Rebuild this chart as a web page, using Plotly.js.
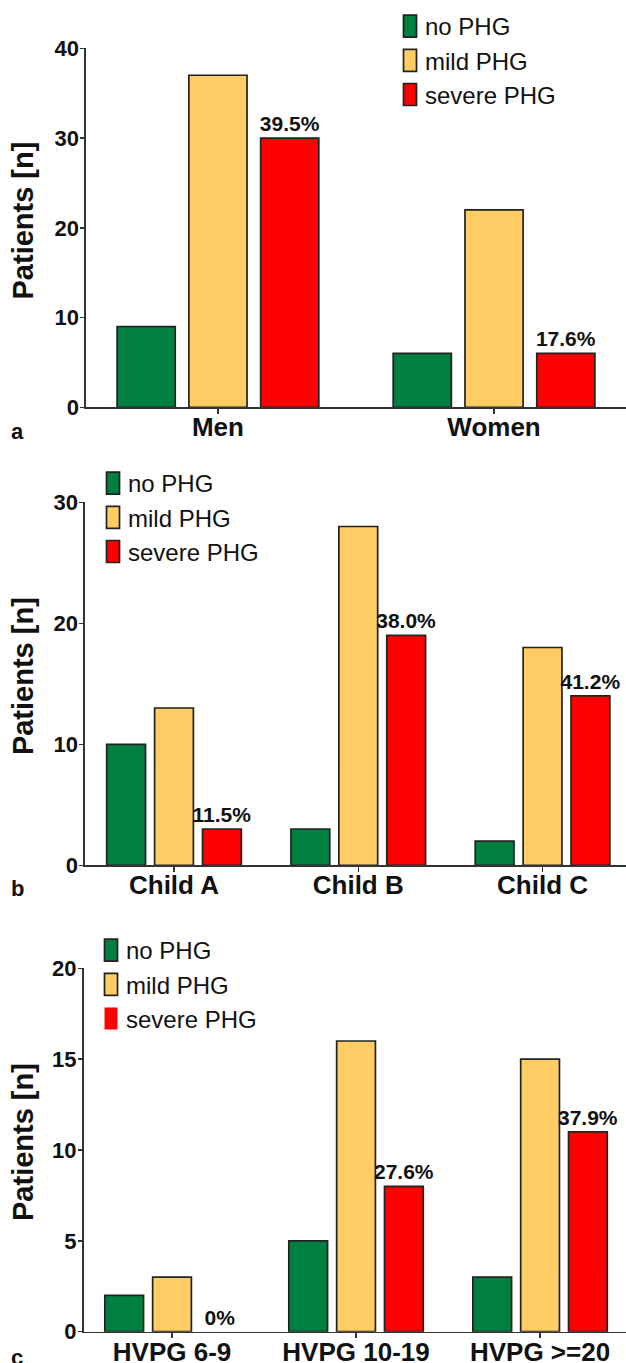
<!DOCTYPE html>
<html>
<head>
<meta charset="utf-8">
<script src="https://cdn.plot.ly/plotly-3.0.1.min.js"></script>
<style>
  html, body { margin: 0; padding: 0; background: #fff; }
  #chart { width: 626px; height: 1363px; }
</style>
</head>
<body>
<div id="chart"></div>
<script>
// ---------- Data ----------
const seriesNames = ['no PHG', 'mild PHG', 'severe PHG'];

const sexCategories = ['Men', 'Women'];
const sexNoPHG = [9, 6];
const sexMildPHG = [37, 22];
const sexSeverePHG = [30, 6];
const sexSevereLabels = ['39.5%', '17.6%'];

const childCategories = ['Child A', 'Child B', 'Child C'];
const childNoPHG = [10, 3, 2];
const childMildPHG = [13, 28, 18];
const childSeverePHG = [3, 19, 14];
const childSevereLabels = ['11.5%', '38.0%', '41.2%'];

const hvpgCategories = ['HVPG 6-9', 'HVPG 10-19', 'HVPG >=20'];
const hvpgNoPHG = [2, 5, 3];
const hvpgMildPHG = [3, 16, 15];
const hvpgSeverePHG = [0, 8, 11];
const hvpgSevereLabels = ['0%', '27.6%', '37.9%'];

// ---------- Styling ----------
const colors = ['#008040', '#FFCC66', '#FF0000'];
const FONT = 'Liberation Sans, Arial, sans-serif';
const lineCol = '#222222';

function panelTraces(cats, none, mild, severe, labels, xa, ya, leg) {
  const vals = [none, mild, severe];
  return vals.map((v, i) => {
    const t = {
      type: 'bar',
      name: seriesNames[i],
      x: cats,
      y: v,
      xaxis: xa,
      yaxis: ya,
      legend: leg,
      legendgroup: leg + '_' + i,
      marker: { color: colors[i], line: { color: lineCol, width: v.map(d => d === 0 ? 0 : 1.7) } },
      hoverinfo: 'skip'
    };
    if (i === 2) {
      t.text = labels;
      t.textposition = 'outside';
      t.constraintext = 'none';
      t.cliponaxis = false;
      t.textfont = { family: FONT, size: 21, color: '#111', weight: 'bold' };
    }
    return t;
  });
}

const data = [].concat(
  panelTraces(sexCategories, sexNoPHG, sexMildPHG, sexSeverePHG, sexSevereLabels, 'x', 'y', 'legend'),
  panelTraces(childCategories, childNoPHG, childMildPHG, childSeverePHG, childSevereLabels, 'x2', 'y2', 'legend2'),
  panelTraces(hvpgCategories, hvpgNoPHG, hvpgMildPHG, hvpgSeverePHG, hvpgSevereLabels, 'x3', 'y3', 'legend3')
);

const H = 1363, W = 626;
const py = v => 1 - v / H;
const px = v => v / W;

function xAxis(domainLeft, range, anchor) {
  return {
    domain: [px(domainLeft), 1], range: range, anchor: anchor, type: 'category',
    showline: true, linecolor: '#333', linewidth: 1.6,
    ticks: 'outside', ticklen: 5, tickwidth: 1.4, tickcolor: '#333',
    ticklabelstandoff: -9,
    tickfont: { family: FONT, size: 26, color: '#111', weight: 'bold' },
    showgrid: false, zeroline: false, fixedrange: true
  };
}
function yAxis(domain, range, dtick, anchor) {
  return {
    domain: domain, range: range, dtick: dtick, anchor: anchor,
    showline: true, linecolor: '#333', linewidth: 1.6,
    ticks: 'outside', ticklen: 4, tickwidth: 1.4, tickcolor: '#333',
    ticklabelstandoff: -3,
    tickfont: { family: FONT, size: 22, color: '#111', weight: 'bold' },
    showgrid: false, zeroline: false, fixedrange: true
  };
}
function legendObj(left, top) {
  return {
    x: px(left), y: py(top), xanchor: 'left', yanchor: 'top',
    orientation: 'v', traceorder: 'normal', tracegroupgap: 0,
    bgcolor: 'rgba(0,0,0,0)', borderwidth: 0,
    font: { family: FONT, size: 24, color: '#111' },
    itemclick: false, itemdoubleclick: false
  };
}
function letter(t, x, y) {
  return { text: t, xref: 'paper', yref: 'paper', x: px(x), y: py(y), xanchor: 'center', yanchor: 'middle',
           showarrow: false, font: { family: FONT, size: 22, color: '#111', weight: 'bold' } };
}
function ytitle(y) {
  return { text: 'Patients [n]', xref: 'paper', yref: 'paper', x: px(22.5), y: py(y), xanchor: 'center', yanchor: 'middle',
           textangle: -90, showarrow: false, font: { family: FONT, size: 29, color: '#111', weight: 'bold' } };
}

const layout = {
  width: W, height: H,
  margin: { l: 0, r: 0, t: 0, b: 0 },
  paper_bgcolor: '#fff', plot_bgcolor: '#fff',
  barmode: 'group', bargap: 0.22, bargroupgap: 0.19,
  showlegend: true,
  xaxis: xAxis(86, [-0.478, 1.478], 'y'),
  yaxis: yAxis([py(407.3), py(48.3)], [0, 40], 10, 'x'),
  xaxis2: xAxis(85, [-0.483, 2.453], 'y2'),
  yaxis2: yAxis([py(865.3), py(502.3)], [0, 30], 10, 'x2'),
  xaxis3: xAxis(83.5, [-0.481, 2.467], 'y3'),
  yaxis3: yAxis([py(1331.7), py(968.3)], [0, 20], 5, 'x3'),
  legend: legendObj(385, 4),
  legend2: legendObj(88, 461),
  legend3: legendObj(86, 928),
  annotations: [
    ytitle(221), ytitle(676.6), ytitle(1142.5),
    letter('a', 17, 431), letter('b', 17.5, 888), letter('c', 17, 1357)
  ]
};

function fixSwatches() {
  document.querySelectorAll('.legendpoints path').forEach(p => {
    p.setAttribute('d', 'M11.5,11H-1.5V-11H11.5Z');
  });
}

Plotly.newPlot('chart', data, layout, { staticPlot: true, displayModeBar: false }).then(() => {
  fixSwatches();
  setTimeout(fixSwatches, 50);
  setTimeout(fixSwatches, 300);
});
</script>
</body>
</html>
